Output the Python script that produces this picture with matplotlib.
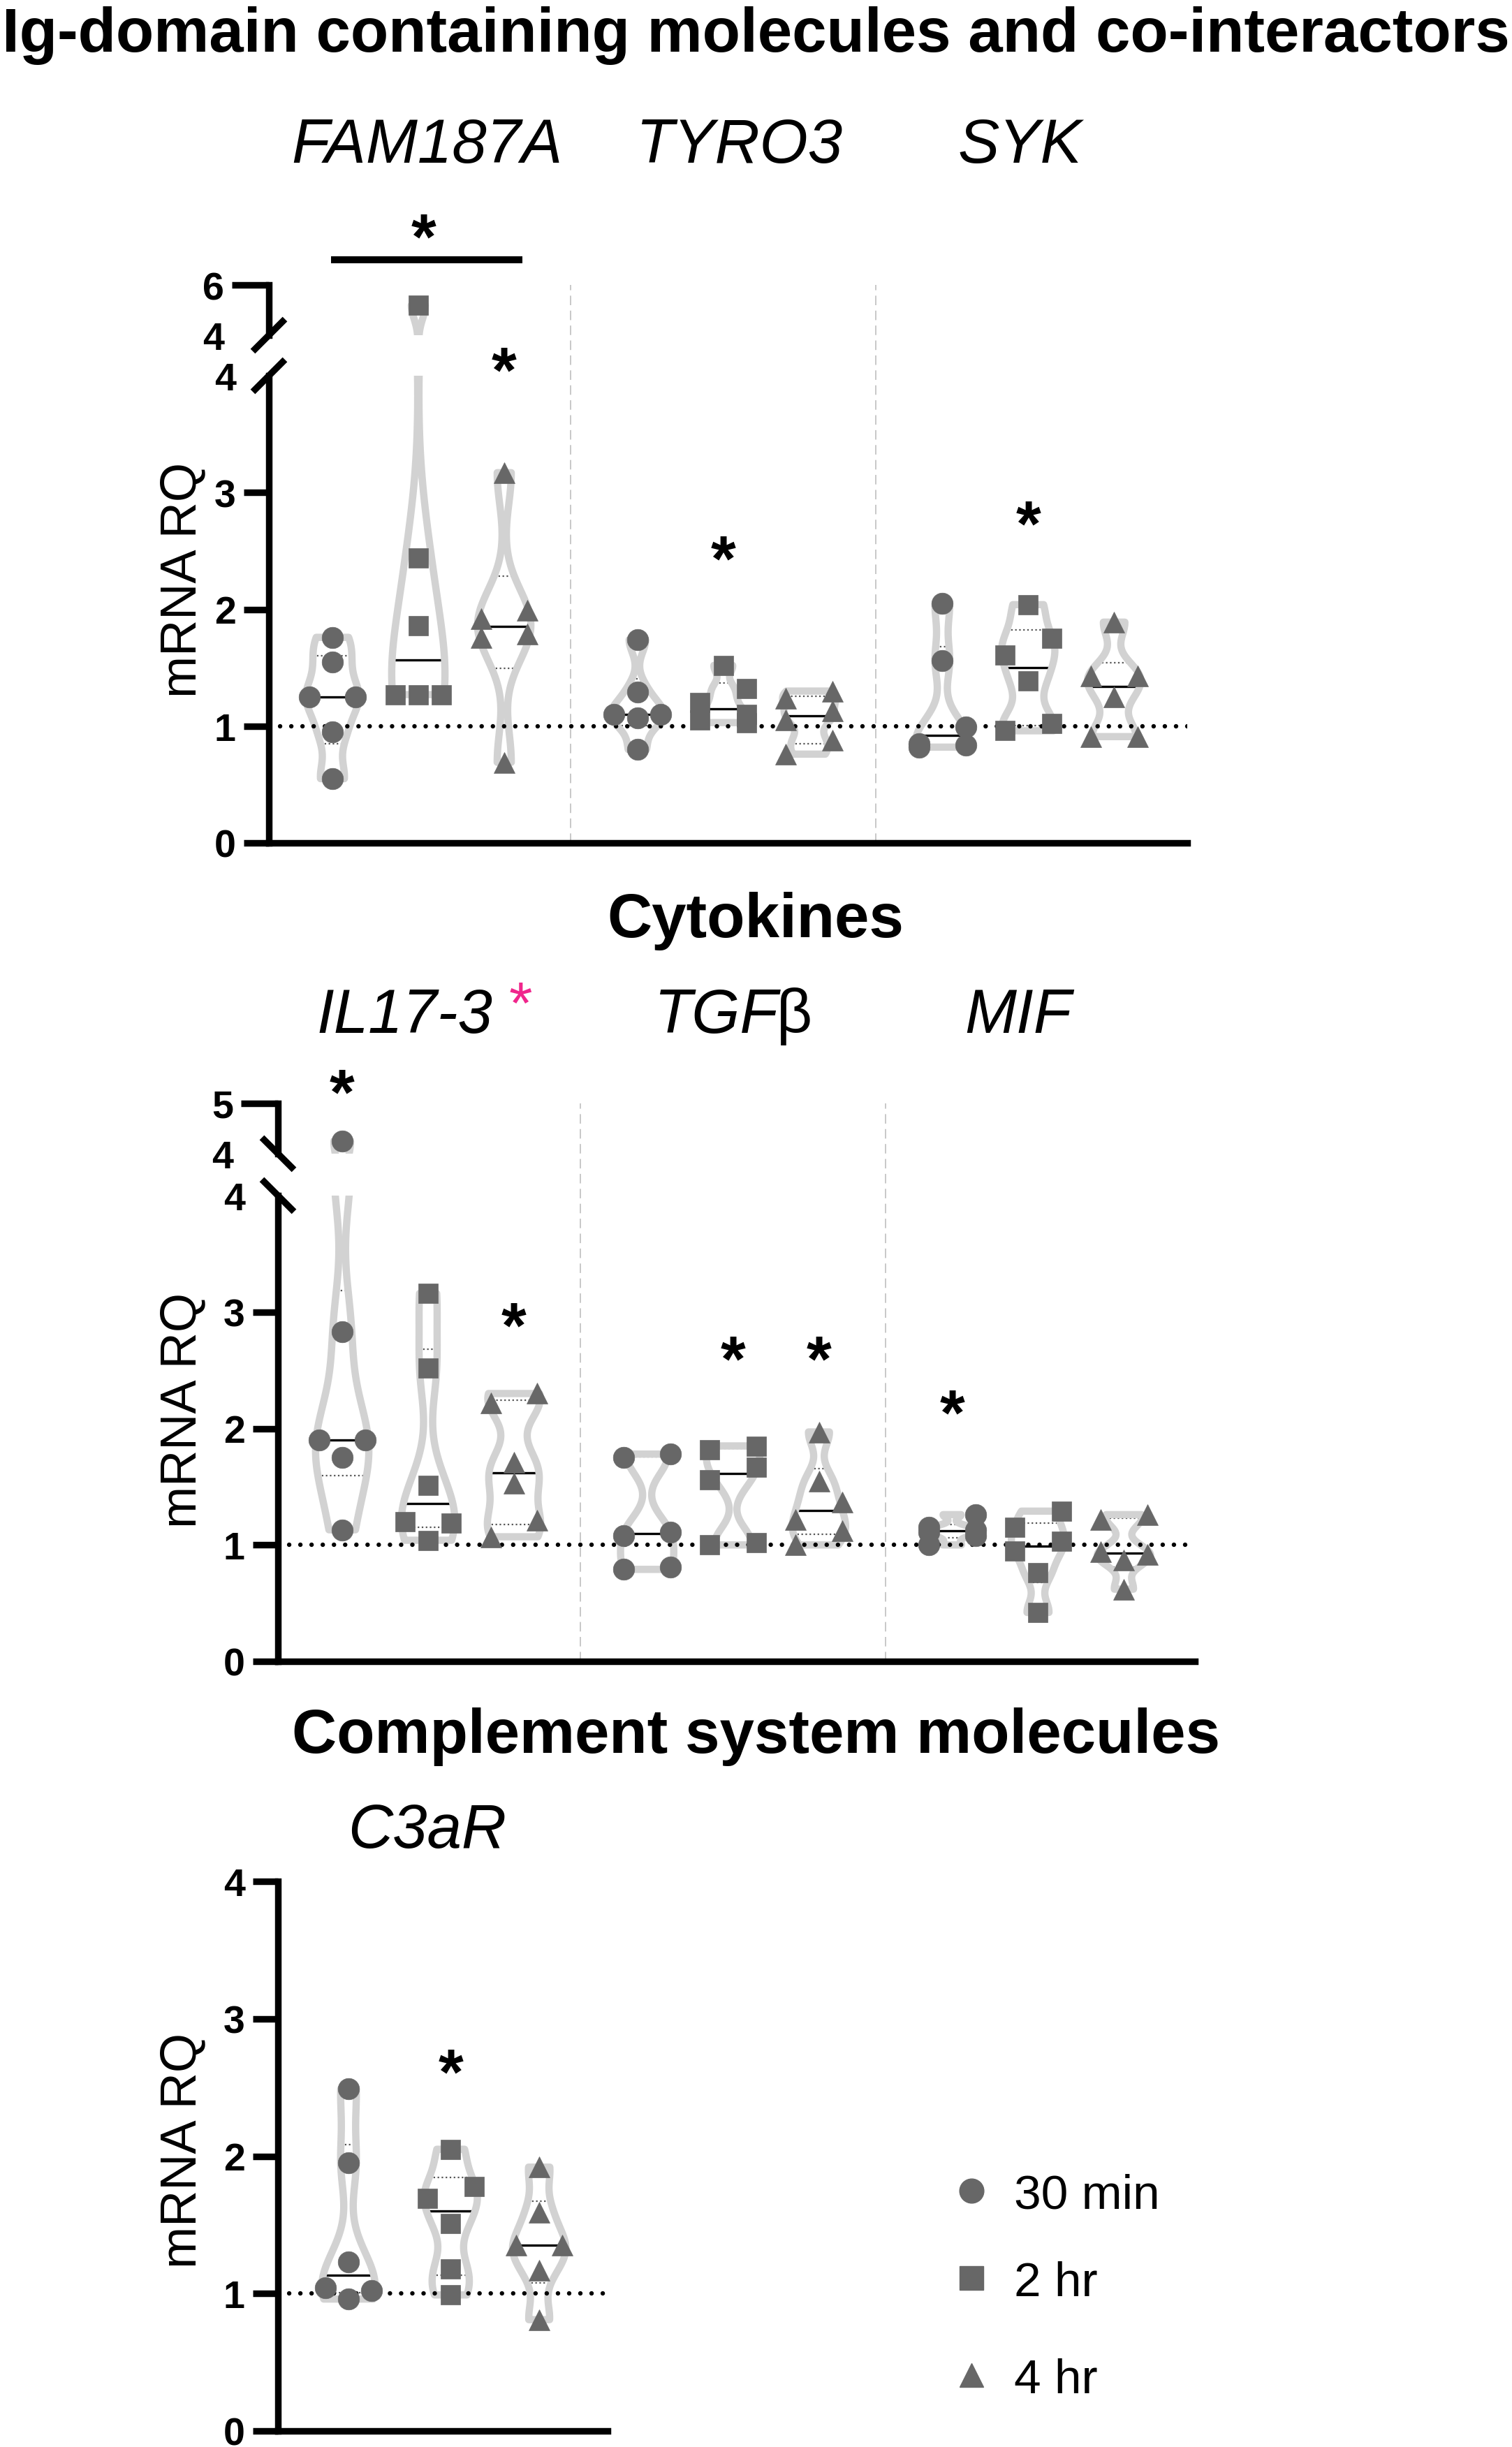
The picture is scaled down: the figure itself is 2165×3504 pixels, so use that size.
import numpy as np
import matplotlib
matplotlib.use('Agg')
import matplotlib.pyplot as plt
from matplotlib import cbook, mlab
from matplotlib.lines import Line2D

plt.rcParams['font.family'] = ['Liberation Sans', 'DejaVu Sans']

# ------------------------------------------------------------------ data
time_labels = ['30 min', '2 hr', '4 hr']

panel1_title = 'Ig-domain containing molecules and co-interactors'
panel1_genes = ['FAM187A', 'TYRO3', 'SYK']
fam187a_30min = [1.76, 1.55, 1.25, 1.25, 0.95, 0.55]
fam187a_2hr = [5.20, 2.44, 1.86, 1.27, 1.27, 1.27]
fam187a_4hr = [3.17, 1.99, 1.92, 1.79, 1.76, 0.69]
tyro3_30min = [1.74, 1.29, 1.10, 1.10, 1.07, 0.80]
tyro3_2hr = [1.52, 1.32, 1.20, 1.10, 1.05, 1.03]
tyro3_4hr = [1.30, 1.24, 1.13, 1.05, 0.88, 0.76]
syk_30min = [2.05, 1.56, 0.99, 0.85, 0.84, 0.82]
syk_2hr = [2.04, 1.75, 1.61, 1.39, 1.02, 0.96]
syk_4hr = [1.89, 1.43, 1.43, 1.25, 0.91, 0.91]

panel2_title = 'Cytokines'
il17_30min = [4.25, 2.83, 1.90, 1.90, 1.75, 1.13]
il17_2hr = [3.16, 2.52, 1.51, 1.20, 1.19, 1.04]
il17_4hr = [2.30, 2.22, 1.71, 1.53, 1.21, 1.07]
tgfb_30min = [1.78, 1.75, 1.11, 1.08, 0.81, 0.79]
tgfb_2hr = [1.85, 1.82, 1.67, 1.56, 1.02, 1.00]
tgfb_4hr = [1.97, 1.55, 1.37, 1.22, 1.12, 1.00]
mif_30min = [1.26, 1.15, 1.13, 1.11, 1.08, 1.00]
mif_2hr = [1.29, 1.15, 1.03, 0.95, 0.76, 0.42]
mif_4hr = [1.26, 1.22, 0.94, 0.92, 0.87, 0.62]

panel3_title = 'Complement system molecules'
c3ar_30min = [2.49, 1.95, 1.23, 1.04, 1.02, 0.96]
c3ar_2hr = [2.05, 1.78, 1.69, 1.51, 1.18, 0.99]
c3ar_4hr = [1.92, 1.59, 1.35, 1.35, 1.17, 0.81]

# significance stars (group index, time index, height)
p1_stars = [(0, 2, 4.11), (1, 1, 2.50), (2, 1, 2.80)]
p2_stars = [(0, 0, 4.95), (0, 2, 2.95), (1, 1, 2.66), (1, 2, 2.66), (2, 0, 2.20)]
p3_stars = [(0, 1, 2.67)]

# ------------------------------------------------------------------ style
W, H, DPI = 2165, 3505, 100
MCOL = '#676767'
VCOL = '#d2d2d2'
MARKERS = ['o', 's', '^']
MSIZE = [22, 20.5, 22]
VW = 0.62
BW = 0.36
STEP = 0.27
SPINE_LW = 6.8
STAR_FS = 66
STAR_C = 0.45
TICK_FS = 40

fig = plt.figure(figsize=(W / DPI, H / DPI), dpi=DPI)


def fx(x):
    return x / W


def fy(y):
    return 1 - y / H


def px_axes(x0, ytop, x1, ybot):
    return fig.add_axes([fx(x0), fy(ybot), (x1 - x0) / W, (ybot - ytop) / H])


def kde(X, coords):
    return mlab.GaussianKDE(X, BW).evaluate(coords)


def swarm_offsets(vals, thr):
    v = np.asarray(vals, float)
    order = np.argsort(-v, kind='stable')
    offs = np.zeros(len(v))
    clusters, cur = [], [order[0]]
    for i in order[1:]:
        if v[cur[-1]] - v[i] < thr:
            cur.append(i)
        else:
            clusters.append(cur)
            cur = [i]
    clusters.append(cur)
    for c in clusters:
        k = len(c)
        if k == 1:
            pat = [0]
        elif k == 3 and v[c[0]] - v[c[-1]] < thr:
            pat = [-1, 1, 0]
        else:
            pat = [1 if j % 2 == 0 else -1 for j in range(k)]
        for idx, p in zip(c, pat):
            offs[idx] = p * STEP
    return offs


def draw_group(axes, pos, data, mi, thr):
    d = np.asarray(data, float)
    stats = cbook.violin_stats([d], kde, points=300)
    coords = np.asarray(stats[0]['coords'])
    vals = np.asarray(stats[0]['vals'])
    half = vals / vals.max() * VW / 2
    med = np.median(d)
    q1, q3 = np.percentile(d, [25, 75], method='weibull')
    offs = swarm_offsets(d, thr)
    for ax in axes:
        parts = ax.violin(stats, positions=[pos], widths=VW, showmeans=False,
                          showextrema=False, showmedians=False)
        for b in parts['bodies']:
            b.set_facecolor('none')
            b.set_edgecolor(VCOL)
            b.set_linewidth(7.5)
            b.set_alpha(1)
            b.set_zorder(2)
        hw = np.interp(med, coords, half)
        ax.plot([pos - hw, pos + hw], [med, med], color='black', lw=2.4,
                solid_capstyle='butt', zorder=1.8)
        for q in (q1, q3):
            hw = np.interp(q, coords, half)
            ax.plot([pos - hw, pos + hw], [q, q], color='#555555', lw=1.6,
                    ls=(0, (1, 1.6)), zorder=1.8)
        ax.plot(pos + offs, d, ls='none', marker=MARKERS[mi], ms=MSIZE[mi],
                mfc=MCOL, mec=MCOL, mew=0.5, zorder=3)


def style_axes(ax, ylim, yticks, xlim, bottom=True, hide_tick=None, tick_len=26):
    ax.set_xlim(*xlim)
    ax.set_ylim(*ylim)
    ax.set_yticks(yticks)
    ax.set_yticklabels([str(t) for t in yticks])
    ax.set_xticks([])
    for s in ['top', 'right']:
        ax.spines[s].set_visible(False)
    ax.spines['bottom'].set_visible(bottom)
    for s in ['left', 'bottom']:
        ax.spines[s].set_linewidth(SPINE_LW)
        ax.spines[s].set_capstyle('projecting')
    ax.tick_params(axis='y', length=tick_len, width=SPINE_LW, pad=8,
                   labelsize=TICK_FS)
    for lab in ax.get_yticklabels():
        lab.set_fontweight('bold')
    ax.patch.set_alpha(0)
    if hide_tick is not None:
        ax.yaxis.get_major_ticks()[hide_tick].tick1line.set_visible(False)


def star(ax, x, y, fs=STAR_FS, color='black', weight='bold'):
    ax.annotate('*', xy=(x, y), xytext=(0, -STAR_C * fs), textcoords='offset points',
                ha='center', va='baseline', fontsize=fs, fontweight=weight,
                color=color, annotation_clip=False)


def slash(xc, yc, direction):
    d = 23
    if direction == '/':
        xs, ys = [xc - d, xc + d], [yc + d, yc - d]
    else:
        xs, ys = [xc - d, xc + d], [yc - d, yc + d]
    fig.add_artist(Line2D([fx(x) for x in xs], [fy(y) for y in ys],
                          transform=fig.transFigure, color='black',
                          lw=SPINE_LW, solid_capstyle='butt'))


def baseline(ax):
    ax.axhline(1, color='black', lw=4.6, ls=(0, (0.01, 2.5)),
               dash_capstyle='round', zorder=2.5)


def separator(ax, x, top):
    ax.plot([x, x], [0, top], color='#c8c8c8', lw=1.4, ls=(0, (7, 4)),
            clip_on=False, zorder=0.5)


group_shift = [0.0, 3.55, 7.1]
time_shift = [0, 1, 2]


def positions(g):
    return [1 + group_shift[g] + t for t in time_shift]


# ------------------------------------------------------------------ titles
fig.text(fx(1082), fy(74), panel1_title, ha='center', va='baseline',
         fontsize=64, fontweight='bold')
fig.text(fx(1082), fy(1342), panel2_title, ha='center', va='baseline',
         fontsize=64, fontweight='bold')
fig.text(fx(1082), fy(2510), panel3_title, ha='center', va='baseline',
         fontsize=64, fontweight='bold')

GENE_FS = 64
for name, x in zip(panel1_genes, [611, 1058, 1460]):
    fig.text(fx(x), fy(233), name, ha='center', va='baseline',
             fontsize=GENE_FS, style='italic')
fig.text(fx(579), fy(1479), 'IL17-3', ha='center', va='baseline',
         fontsize=GENE_FS, style='italic')
mag_fs = 62
fig.text(fx(745), fy(1427 + STAR_C * mag_fs / 0.72), '*', ha='center', va='baseline',
         fontsize=mag_fs, color='#f0268c')
fig.text(fx(1114), fy(1479), 'TGF', ha='right', va='baseline',
         fontsize=GENE_FS, style='italic')
fig.text(fx(1112), fy(1479), 'β', ha='left', va='baseline', fontsize=GENE_FS)
fig.text(fx(1458), fy(1479), 'MIF', ha='center', va='baseline',
         fontsize=GENE_FS, style='italic')
fig.text(fx(612), fy(2646), 'C3aR', ha='center', va='baseline',
         fontsize=GENE_FS, style='italic')

for yc in (830, 2019, 3079):
    fig.text(fx(262), fy(yc), 'mRNA RQ', rotation=90, ha='center', va='center',
             fontsize=52)

# ------------------------------------------------------------------ panel 1
p1_data = [[fam187a_30min, fam187a_2hr, fam187a_4hr],
           [tyro3_30min, tyro3_2hr, tyro3_4hr],
           [syk_30min, syk_2hr, syk_4hr]]
unit = 123.0
xl1 = (1 - (476 - 385) / unit, 1 + (1700 - 476) / unit)
ax1 = px_axes(385, 539, 1700, 1208)
ax1u = px_axes(385, 409, 1700, 481)
style_axes(ax1, (0, 4), [0, 1, 2, 3, 4], xl1, hide_tick=4)
style_axes(ax1u, (4, 6), [4, 6], xl1, bottom=False, hide_tick=0, tick_len=38)
thr12 = 28 / 167.0
for g in range(3):
    for t in range(3):
        draw_group([ax1, ax1u], positions(g)[t], p1_data[g][t], t, thr12)
baseline(ax1)
for xs in (3.775, 7.325):
    separator(ax1, xs, (1208 - 409) / 167.25)
for g, t, y in p1_stars:
    star(ax1, positions(g)[t], y)
ax1.plot([0.98, 3.21], [(1208 - 373) / 167.25] * 2, color='black', lw=7.2,
         clip_on=False, solid_capstyle='butt')
star(ax1, 2.06, (1208 - 329) / 167.25)
slash(385, 539, '/')
slash(385, 481, '/')

# ------------------------------------------------------------------ panel 2
p2_data = [[il17_30min, il17_2hr, il17_4hr],
           [tgfb_30min, tgfb_2hr, tgfb_4hr],
           [mif_30min, mif_2hr, mif_4hr]]
xl2 = (1 - (490 - 398) / unit, 1 + (1711 - 490) / unit)
ax2 = px_axes(398, 1713, 1711, 2380)
ax2u = px_axes(398, 1581, 1711, 1653)
style_axes(ax2, (0, 4), [0, 1, 2, 3, 4], xl2, hide_tick=4)
style_axes(ax2u, (4, 5), [4, 5], xl2, bottom=False, hide_tick=0, tick_len=38)
for g in range(3):
    for t in range(3):
        draw_group([ax2, ax2u], positions(g)[t], p2_data[g][t], t, thr12)
baseline(ax2)
for xs in (3.775, 7.325):
    separator(ax2, xs, (2380 - 1581) / 166.75)
for g, t, y in p2_stars:
    star(ax2, positions(g)[t], y)
slash(398, 1713, '\\')
slash(398, 1653, '\\')

# ------------------------------------------------------------------ panel 3
p3_data = [c3ar_30min, c3ar_2hr, c3ar_4hr]
p3_pos = [1.0, 2.19, 3.22]
xl3 = (1 - (499 - 398) / unit, 1 + (870 - 499) / unit)
ax3 = px_axes(398, 2695, 870, 3482)
style_axes(ax3, (0, 4), [0, 1, 2, 3, 4], xl3)
thr3 = 28 / 197.0
for t in range(3):
    draw_group([ax3], p3_pos[t], p3_data[t], t, thr3)
baseline(ax3)
for g, t, y in p3_stars:
    star(ax3, p3_pos[t], y)

# ------------------------------------------------------------------ legend
for t, (lab, yc) in enumerate(zip(time_labels, [3138, 3263, 3402])):
    fig.add_artist(Line2D([fx(1391)], [fy(yc)], transform=fig.transFigure,
                          marker=MARKERS[t], ms=25, mfc=MCOL, mec=MCOL, ls='none'))
    fig.text(fx(1452), fy(yc + 25), lab, ha='left', va='baseline', fontsize=50)

fig.savefig('out.png', dpi=DPI)
